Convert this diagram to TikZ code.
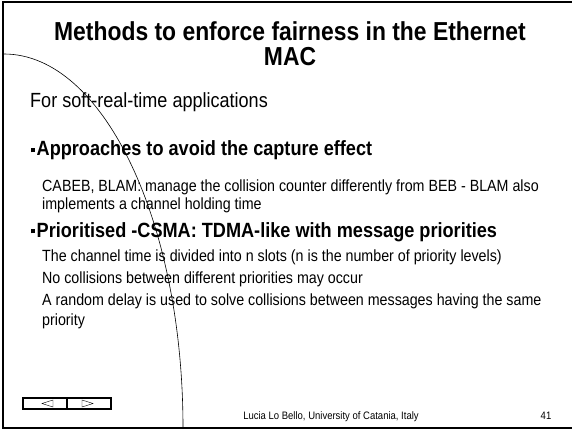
\documentclass[tikz,border=0pt]{standalone}
\usepackage{fontspec}
\setmainfont{Liberation Sans}[FakeStretch=0.88]

\begin{document}
\begin{tikzpicture}[x=1pt, y=-1pt,
  heading/.style={anchor=north, align=center, inner sep=0pt, font=\bfseries\fontsize{26}{25}\selectfont},
  level/.style={anchor=base west, inner sep=0pt, font=\fontsize{20.5}{22}\selectfont},
  point/.style={anchor=base west, inner sep=0pt, font=\bfseries\fontsize{20.6}{22}\selectfont},
  detail/.style={anchor=base west, inner sep=0pt, font=\fontsize{16.2}{18}\selectfont},
  foot/.style={anchor=base, inner sep=0pt, font=\fontsize{10.8}{12}\selectfont},
  navkey/.style={draw, line width=1.2pt, minimum width=44pt, minimum height=11pt, inner sep=0pt}]

\useasboundingbox (0,0) rectangle (572,430);

% slide frame and the big arc
\draw[line width=2pt] (572,2) -- (3,2) -- (3,428) -- (572,428);
\draw[line width=0.6pt] (4,54) .. controls (103,54) and (183,221) .. (183,428);

\node[heading] (title) at (290,21) {Methods to enforce fairness in the Ethernet\\MAC};

\node[level] (soft) at (30,108) {For soft-real-time applications};

\node[point] (capture) at (31,156) {\rule[0.17em]{4pt}{4pt}\hspace{1.5pt}Approaches to avoid the capture effect};
\node[detail] (cabeb) at (42,192) {CABEB, BLAM: manage the collision counter differently from BEB - BLAM also};
\node[detail] (holding) at (42,210) {implements a channel holding time};

\node[point] (prio) at (31,237) {\rule[0.17em]{4pt}{4pt}\hspace{1.5pt}Prioritised -CSMA: TDMA-like with message priorities};
\node[detail] (slots) at (42,261) {The channel time is divided into n slots (n is the number of priority levels)};
\node[detail] (nocoll) at (42,283) {No collisions between different priorities may occur};
\node[detail] (delay) at (42,305) {A random delay is used to solve collisions between messages having the same};
\node[detail] (same) at (42,325) {priority};

\node[foot] (author) at (331,419) {Lucia Lo Bello, University of Catania, Italy};
\node[foot] (page) at (546,419) {41};

% navigation keys
\node[navkey] (back) at (45,403.5) {};
\node[navkey] (forward) at (89,403.5) {};
\draw (back.center) ++(-3,0) -- ++(11,-3.5) -- ++(0,7) -- cycle;
\draw (forward.center) ++(4,0) -- ++(-11,-3.5) -- ++(0,7) -- cycle;

\end{tikzpicture}
\end{document}
